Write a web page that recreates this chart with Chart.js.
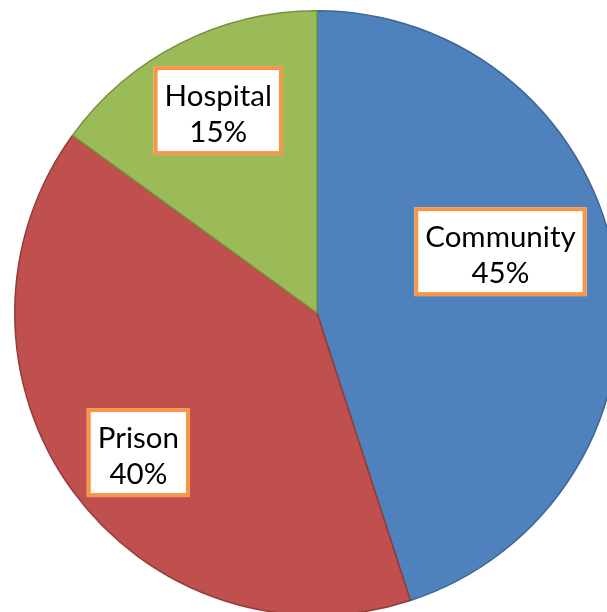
<!DOCTYPE html>
<html>
<head>
<meta charset="utf-8">
<script src="https://cdn.jsdelivr.net/npm/chart.js@4.4.1/dist/chart.umd.min.js"></script>
<style>
  html, body { margin: 0; padding: 0; background: #fff; overflow: hidden; width: 607px; height: 612px; }
  #pie { position: absolute; left: 14px; top: 10px; }
</style>
</head>
<body>
<canvas id="pie" width="606" height="606"></canvas>
<script>
// chart data
const categories = ['Community', 'Prison', 'Hospital'];
const shares = [45, 40, 15];

const fillColors = ['#4F81BD', '#C0504D', '#9BBB59'];
const edgeColors = ['#3C6494', '#923C3A', '#76913F'];

// where each label box sits: fraction of radius and a small angle shift (deg)
const labelPlacement = [
  { r: 0.64, shift: -9.5 },
  { r: 0.75, shift: -2 },
  { r: 0.745, shift: 1 }
];

const labelBoxes = {
  id: 'labelBoxes',
  afterDatasetsDraw(chart) {
    const ctx = chart.ctx;
    const meta = chart.getDatasetMeta(0);
    ctx.save();
    ctx.font = '29.5px Lato, "Open Sans", sans-serif';
    meta.data.forEach((arc, i) => {
      const p = arc.getProps(['x', 'y', 'startAngle', 'endAngle', 'outerRadius'], true);
      const place = labelPlacement[i];
      const mid = (p.startAngle + p.endAngle) / 2 + place.shift * Math.PI / 180;
      const cx = p.x + Math.cos(mid) * p.outerRadius * place.r;
      const cy = p.y + Math.sin(mid) * p.outerRadius * place.r;
      const lines = [categories[i], shares[i] + '%'];
      const w = Math.max(...lines.map(t => ctx.measureText(t).width)) + 22;
      const h = 89;
      ctx.fillStyle = '#fff';
      ctx.fillRect(cx - w / 2, cy - h / 2, w, h);
      ctx.strokeStyle = '#F79646';
      ctx.lineWidth = 4;
      ctx.strokeRect(cx - w / 2 + 2, cy - h / 2 + 2, w - 4, h - 4);
      ctx.fillStyle = '#000';
      ctx.textAlign = 'center';
      ctx.textBaseline = 'alphabetic';
      ctx.fillText(lines[0], cx, cy - 5);
      ctx.fillText(lines[1], cx, cy + 31);
    });
    ctx.restore();
  }
};

new Chart(document.getElementById('pie'), {
  type: 'pie',
  data: {
    labels: categories,
    datasets: [{
      data: shares,
      backgroundColor: fillColors,
      borderColor: edgeColors,
      borderWidth: 1.5
    }]
  },
  options: {
    responsive: false,
    animation: false,
    devicePixelRatio: 1,
    layout: { padding: 0 },
    plugins: {
      legend: { display: false },
      tooltip: { enabled: false }
    }
  },
  plugins: [labelBoxes]
});
</script>
</body>
</html>
